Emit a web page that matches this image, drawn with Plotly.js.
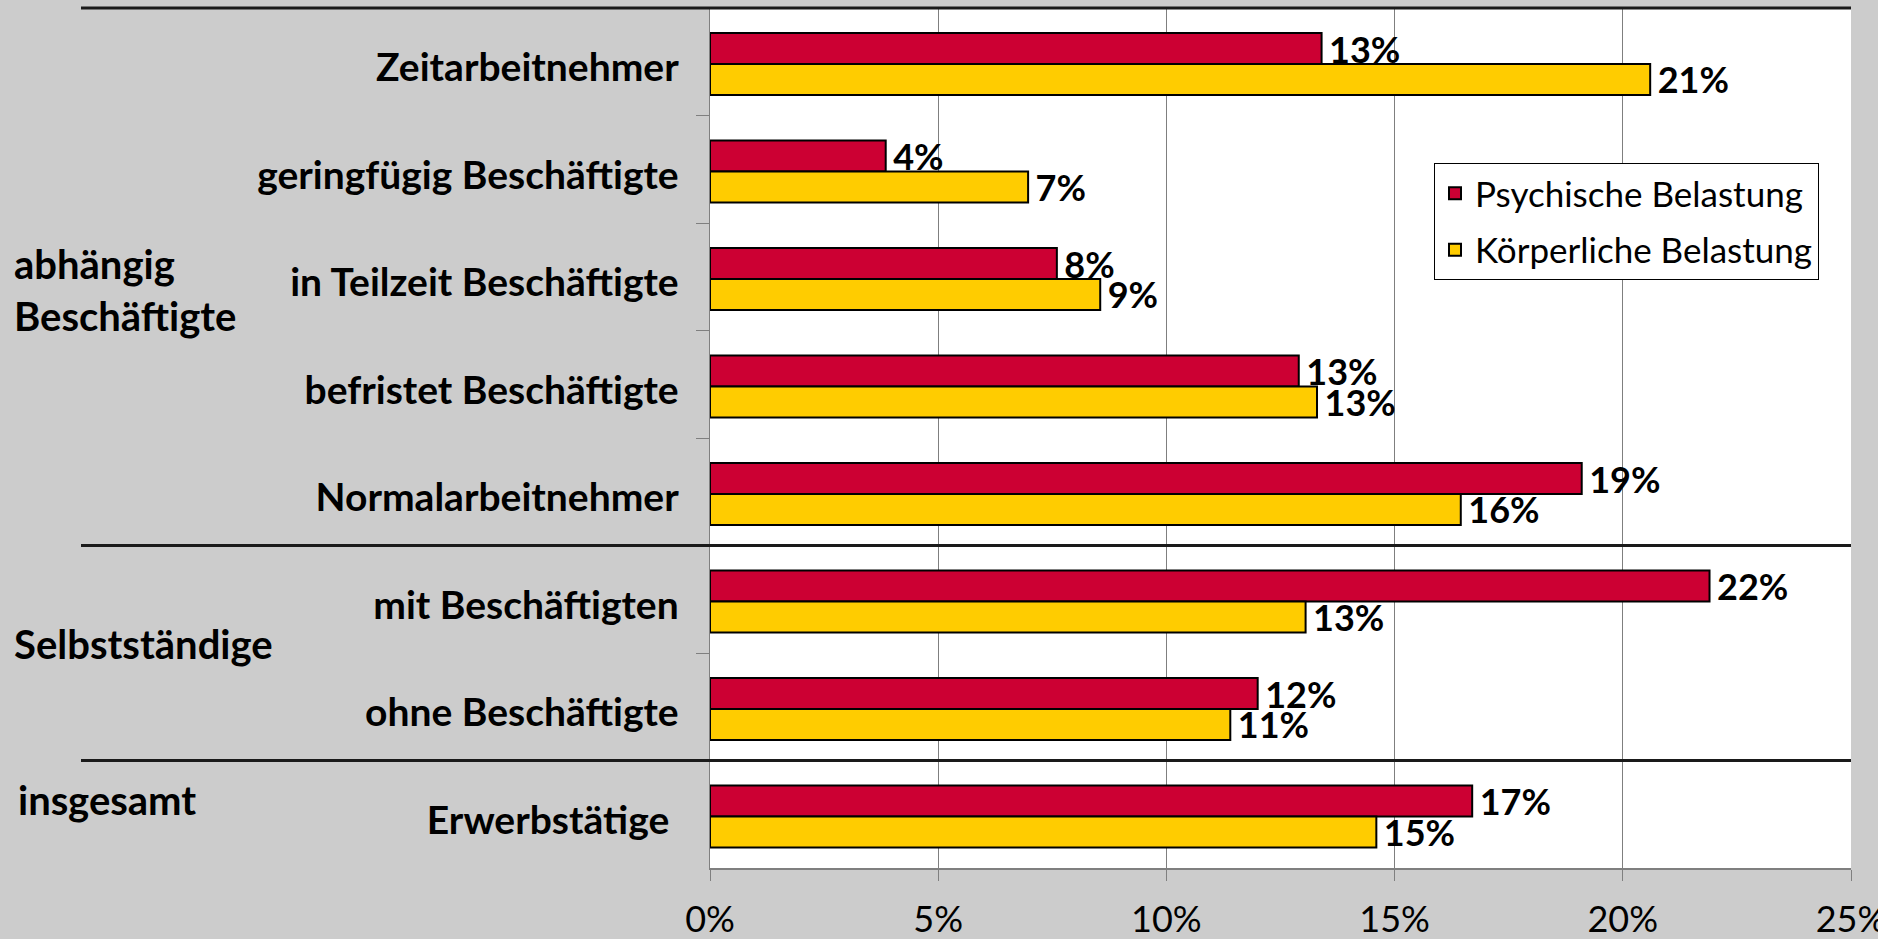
<!DOCTYPE html>
<html>
<head>
<meta charset="utf-8">
<script src="https://cdn.plot.ly/plotly-3.0.1.min.js"></script>
<style>html,body{margin:0;padding:0;background:#cccccc;}#chart{width:1878px;height:939px;}</style>
</head>
<body>
<div id="chart"></div>
<script>
// Data
var categories = ["Zeitarbeitnehmer", "geringfügig Beschäftigte", "in Teilzeit Beschäftigte", "befristet Beschäftigte", "Normalarbeitnehmer", "mit Beschäftigten", "ohne Beschäftigte", "Erwerbstätige\u00a0"];
var seriesNames = ["Psychische Belastung", "Körperliche Belastung"];
var psychisch = [13.4, 3.85, 7.6, 12.9, 19.1, 21.9, 12.0, 16.7];
var koerperlich = [20.6, 6.97, 8.55, 13.3, 16.45, 13.05, 11.4, 14.6];
var groupLabels = ["abhängig<br>Beschäftigte", "Selbstständige", "insgesamt"];
var xTicks = [0, 5, 10, 15, 20, 25];
var xTickText = ["0%", "5%", "10%", "15%", "20%", "25%"];

// Layout geometry (pixels)
var W = 1878, H = 939;
var ml = 710, mr = 27, mt = 8, mb = 71;
var pw = W - ml - mr, ph = H - mt - mb;
function px2x(px){ return (px - ml) / pw; }
function py2y(py){ return 1 - (py - mt) / ph; }

var FONT = "Lato, 'Noto Sans', sans-serif";
var BARW = 0.288;

function mkTrace(vals, name, color, grp, off){
  return {
    type: "bar", orientation: "h",
    y: categories, x: vals, name: name, legendgroup: grp,
    width: BARW, offset: off,
    marker: {color: color, line: {color: "#000000", width: 2}},
    text: vals.map(function(v){ return "\u2009" + Math.round(v) + "%"; }),
    textposition: "outside",
    constraintext: "none",
    cliponaxis: false,
    textfont: {family: FONT, size: 36, color: "#000000", weight: 700},
    hoverinfo: "skip"
  };
}

var data = [
  mkTrace(psychisch, seriesNames[0], "#cc0033", "a", -0.267),
  mkTrace(koerperlich, seriesNames[1], "#ffcc00", "b", 0.021)
];

var lineColor = "#1a1a1a";
var shapes = [
  {type: "line", xref: "paper", yref: "paper", x0: px2x(81), x1: 1, y0: py2y(8), y1: py2y(8), line: {color: lineColor, width: 3}},
  {type: "line", xref: "paper", yref: "y", x0: px2x(81), x1: 1, y0: 4.5, y1: 4.5, line: {color: lineColor, width: 3}},
  {type: "line", xref: "paper", yref: "y", x0: px2x(81), x1: 1, y0: 6.5, y1: 6.5, line: {color: lineColor, width: 3}}
];

var GF = {family: FONT, size: 40, color: "#000", weight: 700};
var annotations = [
  {xref: "paper", yref: "paper", x: px2x(12), y: py2y(290), text: groupLabels[0], showarrow: false, xanchor: "left", yanchor: "middle", align: "left", font: GF},
  {xref: "paper", yref: "paper", x: px2x(12), y: py2y(644), text: groupLabels[1], showarrow: false, xanchor: "left", yanchor: "middle", align: "left", font: GF},
  {xref: "paper", yref: "paper", x: px2x(16), y: py2y(800), text: groupLabels[2], showarrow: false, xanchor: "left", yanchor: "middle", align: "left", font: GF}
];

var layout = {
  width: W, height: H,
  margin: {l: ml, r: mr, t: mt, b: mb, pad: 0},
  paper_bgcolor: "#cccccc",
  plot_bgcolor: "#ffffff",
  barmode: "group",
  showlegend: true,
  legend: {
    x: px2x(1434), y: py2y(163), xanchor: "left", yanchor: "top",
    bgcolor: "#ffffff", bordercolor: "#000000", borderwidth: 1,
    font: {family: FONT, size: 35, color: "#000"},
    traceorder: "grouped", tracegroupgap: 8
  },
  xaxis: {
    range: [0, 25], tickvals: xTicks, ticktext: xTickText,
    showgrid: true, gridcolor: "#7f7f7f", gridwidth: 1,
    zeroline: false,
    showline: true, linecolor: "#7f7f7f", linewidth: 1.5,
    ticks: "outside", ticklen: 11, tickcolor: "#7f7f7f",
    ticklabelstandoff: 8,
    ticklabeloverflow: "allow",
    tickfont: {family: FONT, size: 36, color: "#000"},
    fixedrange: true
  },
  yaxis: {
    autorange: "reversed",
    type: "category",
    tickson: "boundaries",
    ticks: "outside", ticklen: 13, tickcolor: "#7f7f7f",
    showline: true, linecolor: "#7f7f7f", linewidth: 1.5,
    showgrid: false,
    ticklabelstandoff: 22,
    ticklabelshift: -6,
    tickfont: {family: FONT, size: 39, color: "#000", weight: 700},
    fixedrange: true
  },
  shapes: shapes,
  annotations: annotations
};

Plotly.newPlot("chart", data, layout, {displayModeBar: false, staticPlot: true});
</script>
</body>
</html>
